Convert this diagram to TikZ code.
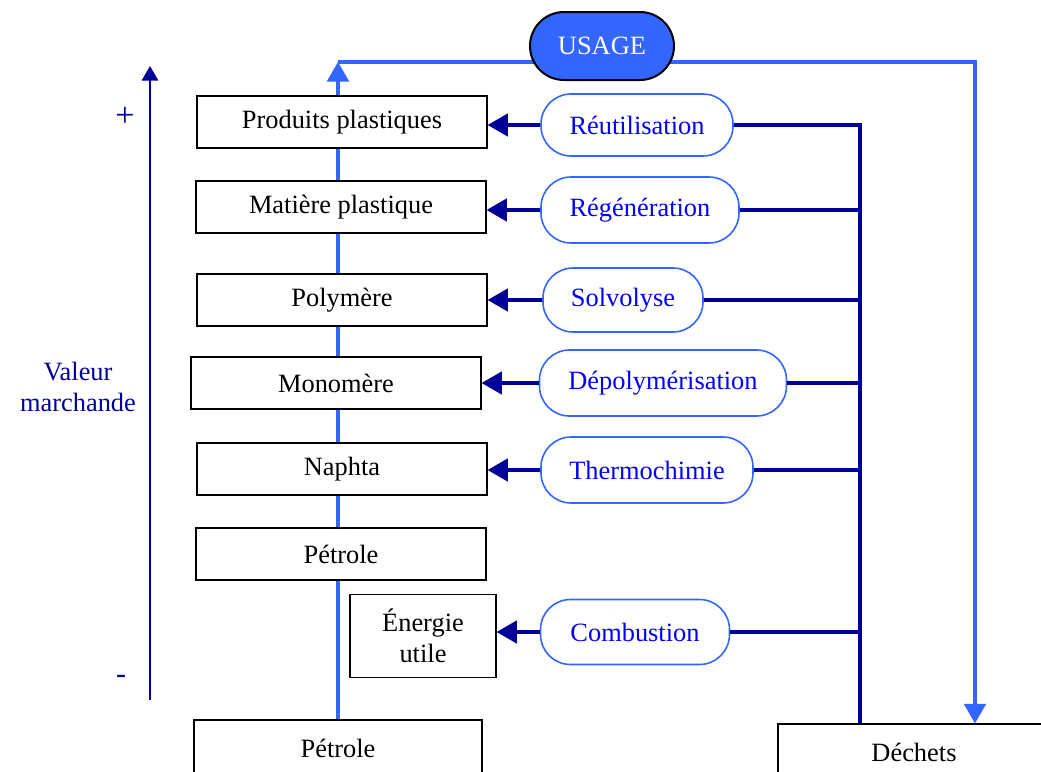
\documentclass[tikz,border=0pt]{standalone}
\usepackage{fontspec}
\setmainfont{Liberation Serif}
\usetikzlibrary{arrows,backgrounds}
\definecolor{bleuvif}{RGB}{51,102,255}
\definecolor{marine}{RGB}{0,0,153}
\definecolor{bleutexte}{RGB}{0,0,255}

\begin{document}
\begin{tikzpicture}[x=0.5pt,y=-0.5pt,>=triangle 60,
    font=\fontsize{13.2}{15.5}\selectfont,
    boite/.style={shape=rectangle,draw=black,line width=0.7pt,fill=white,minimum width=145pt,minimum height=26pt,inner sep=0pt},
    procede/.style={shape=rectangle,rounded corners=15pt,draw=bleuvif,line width=0.8pt,fill=white,text=bleutexte,minimum height=31pt,inner sep=0pt},
    flux/.style={draw=marine,line width=1.8pt},
    retour/.style={draw=bleuvif,line width=1.7pt},
    axe/.style={draw=marine,line width=1pt}]
    \useasboundingbox (0,0) rectangle (1041,772);
    \clip (0,0) rectangle (1041,772);
    % echelle de valeur
    \coordinate (axebas) at (150,700);
    \coordinate (axehaut) at (150,66);
    \draw[axe,->] (axebas) -- (axehaut);
    \node[text=marine,font=\fontsize{17}{19}\selectfont] (plus) at (125,117) {+};
    \node[text=marine,font=\fontsize{15}{17}\selectfont] (moins) at (121,679) {-};
    \node[text=marine,align=center] (valeur) at (78,387) {Valeur\\marchande};
    % produits
    \node[boite] (produits) at (342,122) {Produits plastiques};
    \node[boite] (matiere) at (341,207) {Matière plastique};
    \node[boite] (polymere) at (342,300) {Polymère};
    \node[boite] (monomere) at (336,383) {Monomère};
    \node[boite] (naphta) at (342,469) {Naphta};
    \node[boite] (petrole) at (341,554) {Pétrole};
    \node[boite,minimum width=73pt,minimum height=41.5pt,align=center] (energie) at (423,636) {Énergie\\utile};
    \node[boite,minimum width=144pt,minimum height=28pt] (petrolebas) at (338,748) {Pétrole};
    \node[boite,minimum width=136pt,minimum height=28pt] (dechets) at (914,752) {Déchets};
    % procedes
    \node[procede,minimum width=96pt] (reut) at (637,125) {Réutilisation};
    \node[procede,minimum width=99pt,minimum height=33pt] (regen) at (640,210) {Régénération};
    \node[procede,minimum width=80pt,minimum height=32pt] (solvo) at (623,300) {Solvolyse};
    \node[procede,minimum width=123.5pt,minimum height=33pt] (depoly) at (663,383) {Dépolymérisation};
    \node[procede,minimum width=106pt,minimum height=33pt] (thermo) at (647,470) {Thermochimie};
    \node[procede,minimum width=94.5pt,minimum height=32.5pt] (combu) at (635,632) {Combustion};
    \node[shape=rectangle,rounded corners=17pt,draw=black,line width=1pt,fill=bleuvif,text=white,minimum width=72pt,minimum height=34pt] (usage) at (602,46) {USAGE};
    % collecte des dechets
    \coordinate (collecteur) at (860,125);
    \draw[flux] (reut.east) -| (dechets.north -| collecteur);
    \draw[flux] (regen.east) -- (regen.east -| collecteur);
    \draw[flux] (solvo.east) -- (solvo.east -| collecteur);
    \draw[flux] (depoly.east) -- (depoly.east -| collecteur);
    \draw[flux] (thermo.east) -- ([xshift=1pt]thermo.east -| collecteur);
    \draw[flux] (combu.east) -- (combu.east -| collecteur);
    \draw[flux,->] (reut.west) -- (reut.west -| produits.east);
    \draw[flux,->] (regen.west) -- (regen.west -| matiere.east);
    \draw[flux,->] (solvo.west) -- (solvo.west -| polymere.east);
    \draw[flux,->] (depoly.west) -- (depoly.west -| monomere.east);
    \draw[flux,->] (thermo.west) -- (thermo.west -| naphta.east);
    \draw[flux,->] (combu.west) -- (combu.west -| energie.east);
    % boucle usage
    \coordinate (hautg) at (338,62);
    \coordinate (hautd) at (975,62);
    \begin{pgfonlayer}{background}
        \draw[retour,->] (petrolebas.north) -- (hautg);
        \draw[retour,->] (hautg) -- (hautd) -- (hautd |- dechets.north);
    \end{pgfonlayer}
\end{tikzpicture}
\end{document}
